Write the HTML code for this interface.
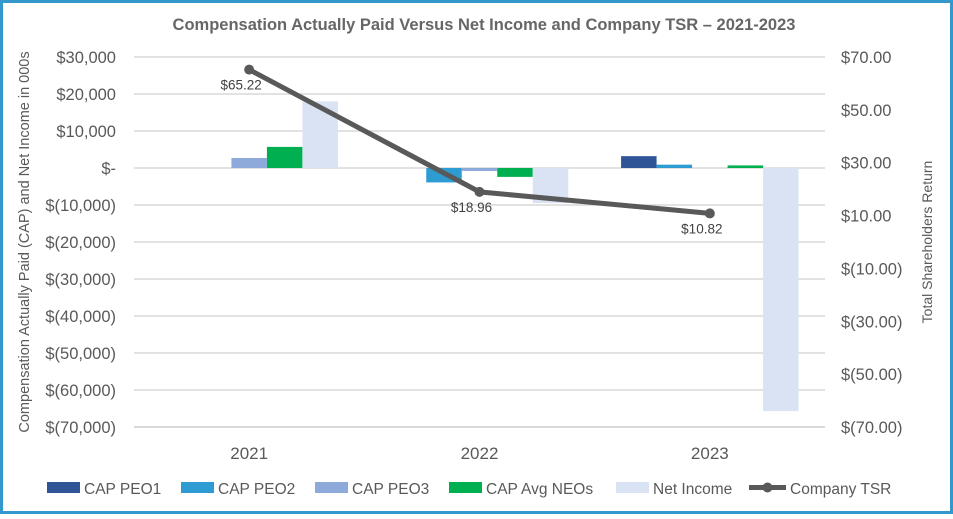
<!DOCTYPE html>
<html><head><meta charset="utf-8"><style>
body{margin:0;background:#fff;}
svg text{font-family:"Liberation Sans",sans-serif;}
</style></head><body>
<svg width="953" height="514" viewBox="0 0 953 514" id="chart">
<rect x="1.5" y="1.5" width="950" height="511" fill="#fff" stroke="#3399cc" stroke-width="3"/>
<text x="484" y="30" text-anchor="middle" font-size="16.5" font-weight="bold" fill="#666">Compensation Actually Paid Versus Net Income and Company TSR – 2021-2023</text>
<text transform="translate(29,242) rotate(-90)" text-anchor="middle" font-size="14.5" fill="#595959">Compensation Actually Paid (CAP) and Net Income in 000s</text>
<text transform="translate(932,242) rotate(-90)" text-anchor="middle" font-size="14" fill="#595959">Total Shareholders Return</text>
<g id="grid"></g><g id="bars"></g><g id="line"></g><g id="axes"></g><g id="legend"></g>
</svg>
<script>
const categories=["2021","2022","2023"];
const seriesNames=["CAP PEO1","CAP PEO2","CAP PEO3","CAP Avg NEOs","Net Income"];
const capPeo1=[0,0,3200];
const capPeo2=[0,-3900,900];
const capPeo3=[2700,-800,0];
const capNeos=[5700,-2400,700];
const netIncome=[18000,-9500,-65700];
const tsr=[65.22,18.96,10.82];
const tsrLabels=["$65.22","$18.96","$10.82"];
const leftTicks=[30000,20000,10000,0,-10000,-20000,-30000,-40000,-50000,-60000,-70000];
const leftTickLabels=["$30,000","$20,000","$10,000","$-","$(10,000)","$(20,000)","$(30,000)","$(40,000)","$(50,000)","$(60,000)","$(70,000)"];
const rightTicks=[70,50,30,10,-10,-30,-50,-70];
const rightTickLabels=["$70.00","$50.00","$30.00","$10.00","$(10.00)","$(30.00)","$(50.00)","$(70.00)"];
const colors=["#2f5597","#2e9bd3","#8eaadb","#00b050","#dae3f3"];
const NS="http://www.w3.org/2000/svg";
const X0=134,X1=825,YT=57,YB=427;
const yL=v=>YT+(30000-v)/100000*(YB-YT);
const yR=v=>YT+(70-v)/140*(YB-YT);
const cw=(X1-X0)/categories.length;
const xC=i=>X0+cw*(i+0.5);
const bw=35.5;
function mk(tag,attrs,parent,text){const e=document.createElementNS(NS,tag);for(const k in attrs)e.setAttribute(k,attrs[k]);if(text!==undefined)e.textContent=text;document.getElementById(parent).appendChild(e);return e;}
leftTicks.forEach((t,i)=>{
 const g=mk('line',{x1:X0,x2:X1,y1:yL(t),y2:yL(t),stroke:'#d9d9d9','stroke-width':t===-70000?2:1.5},'grid');
 
 
 const l=mk('text',{x:116,y:yL(t)+6,'text-anchor':'end','font-size':16.5,fill:'#595959'},'axes',leftTickLabels[i]);
 
 
});
rightTicks.forEach((t,i)=>{
 const l=mk('text',{x:841,y:yR(t)+6,'font-size':16.5,fill:'#595959'},'axes',rightTickLabels[i]);
 
 
});
categories.forEach((c,i)=>{
 const l=mk('text',{x:xC(i),y:459,'text-anchor':'middle','font-size':17,fill:'#595959'},'axes',c);
 
 
});
const series=[capPeo1,capPeo2,capPeo3,capNeos,netIncome];
series.forEach((s,si)=>{
 s.forEach((v,i)=>{
  if(v===0)return;
  const x=xC(i)-bw*2.5+si*bw;
  const y=Math.min(yL(v),yL(0)),h=Math.abs(yL(v)-yL(0));
  const r=mk('rect',{x:x,y:y,width:bw,height:h,fill:colors[si]},'bars');
  
  
 });
});
const pts=tsr.map((v,i)=>xC(i)+','+yR(v)).join(' ');
const pl=mk('polyline',{points:pts,fill:'none',stroke:'#595959','stroke-width':5},'line');


tsr.forEach((v,i)=>{
 const c=mk('circle',{cx:xC(i),cy:yR(v),r:5,fill:'#595959'},'line');
 
 
 const t=mk('text',{x:xC(i)-8,y:yR(v)+20,'text-anchor':'middle','font-size':13.5,fill:'#404040'},'line',tsrLabels[i]);
 
 
});
const legX=[47,181,315,449,616];
seriesNames.forEach((n,i)=>{
 const r=mk('rect',{x:legX[i],y:482,width:33,height:11,fill:colors[i]},'legend');
 
 
 const t=mk('text',{x:legX[i]+37,y:494,'font-size':15.5,fill:'#595959'},'legend',n);
 
 
});
const ll=mk('line',{x1:749,x2:786,y1:487.5,y2:487.5,stroke:'#595959','stroke-width':5},'legend');


const lc=mk('circle',{cx:767.5,cy:487.5,r:5,fill:'#595959'},'legend');


const lt=mk('text',{x:790,y:494,'font-size':15.5,fill:'#595959'},'legend','Company TSR');


</script>
</body></html>
